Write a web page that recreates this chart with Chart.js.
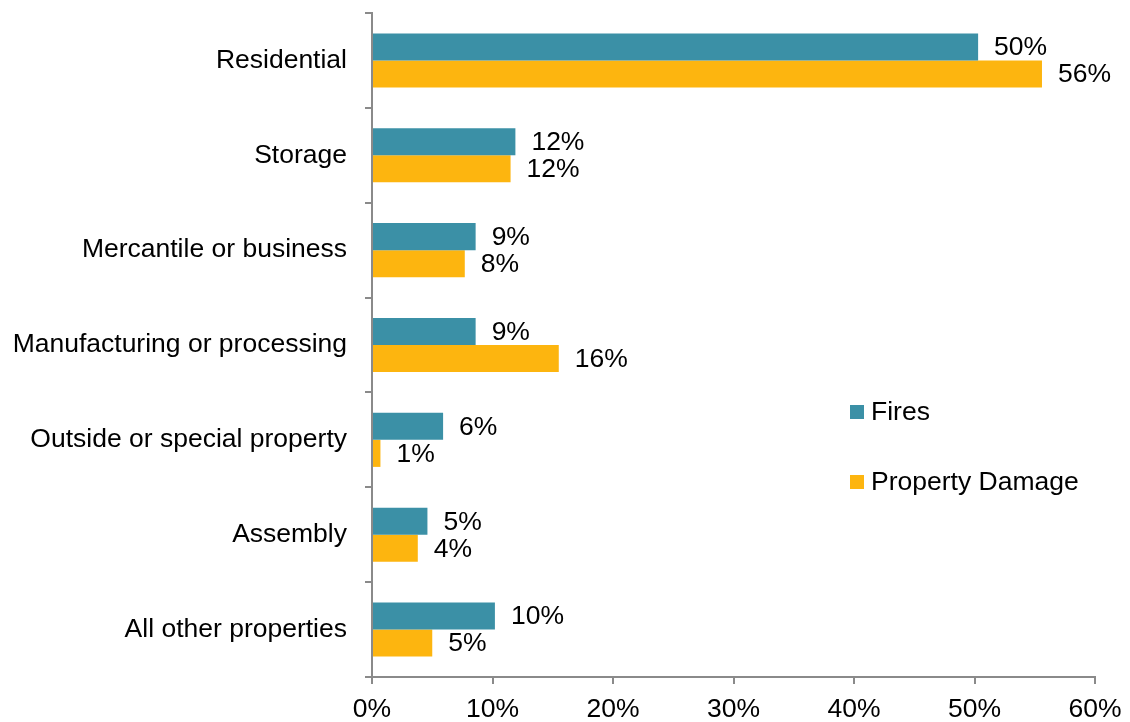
<!doctype html>
<html lang="en">
<head>
<meta charset="utf-8">
<title>Fires and property damage by property type</title>
<style>
  body { margin: 0; background: #fff; }
  #wrap { position: relative; width: 1130px; height: 722px; }
</style>
<script src="https://cdn.jsdelivr.net/npm/chart.js@4.4.1/dist/chart.umd.min.js"></script>
</head>
<body>
<div id="wrap"><canvas id="myChart"></canvas></div>

<script>
var categories = [
  "Residential",
  "Storage",
  "Mercantile or business",
  "Manufacturing or processing",
  "Outside or special property",
  "Assembly",
  "All other properties"
];
// share of all fires / all property damage, in percent
var fires = [50.3, 11.9, 8.6, 8.6, 5.9, 4.6, 10.2];
var damage = [55.6, 11.5, 7.7, 15.5, 0.7, 3.8, 5.0];
var seriesNames = ["Fires", "Property Damage"];
var xTicks = [0, 10, 20, 30, 40, 50, 60];

var FONT = "'Liberation Sans', Arial, sans-serif";
var FONT_SIZE = 26.5;
var AXIS = "#8a8a8a";

// value labels just past the end of each bar
var barLabels = {
  id: "barLabels",
  afterDatasetsDraw: function(chart) {
    var ctx = chart.ctx;
    ctx.save();
    ctx.font = FONT_SIZE + "px " + FONT;
    ctx.fillStyle = "#000";
    ctx.textAlign = "left";
    ctx.textBaseline = "middle";
    chart.data.datasets.forEach(function(ds, i) {
      chart.getDatasetMeta(i).data.forEach(function(bar, j) {
        ctx.fillText(Math.round(ds.data[j]) + "%", bar.x + 16, bar.y + 1);
      });
    });
    ctx.restore();
  }
};

// legend sits inside the plot, lower right
var sideLegend = {
  id: "sideLegend",
  afterDraw: function(chart) {
    var ctx = chart.ctx;
    var x = 850, y = 412, step = 70;
    ctx.save();
    ctx.font = FONT_SIZE + "px " + FONT;
    ctx.textAlign = "left";
    ctx.textBaseline = "middle";
    chart.data.datasets.forEach(function(ds, i) {
      var cy = y + i * step;
      ctx.fillStyle = ds.backgroundColor;
      ctx.fillRect(x, cy - 7, 14, 14);
      ctx.fillStyle = "#000";
      ctx.fillText(ds.label, x + 21, cy + 1);
    });
    ctx.restore();
  }
};

var ctx = document.getElementById("myChart").getContext("2d");
var myChart = new Chart(ctx, {
  type: "bar",
  data: {
    labels: categories,
    datasets: [{
      label: seriesNames[0],
      data: fires,
      backgroundColor: "#3B90A6"
    }, {
      label: seriesNames[1],
      data: damage,
      backgroundColor: "#FDB50F"
    }]
  },
  options: {
    indexAxis: "y",
    responsive: true,
    maintainAspectRatio: false,
    animation: false,
    layout: { padding: { top: 13, right: 35, left: 0, bottom: 0 } },
    datasets: { bar: { categoryPercentage: 0.57, barPercentage: 1.0 } },
    plugins: {
      legend: { display: false },
      tooltip: { enabled: false }
    },
    scales: {
      x: {
        min: 0,
        max: 60,
        afterFit: function(scale) {
          scale.height = 45;
          scale.paddingLeft = 0;
          scale.paddingRight = 0;
        },
        afterBuildTicks: function(scale) {
          scale.ticks = xTicks.map(function(v) { return { value: v }; });
        },
        border: { color: AXIS, width: 2 },
        grid: { drawOnChartArea: false, tickLength: 7, color: AXIS, lineWidth: 2 },
        ticks: {
          color: "#000",
          padding: 10,
          maxRotation: 0,
          font: { family: FONT, size: FONT_SIZE },
          callback: function(v) { return v + "%"; }
        }
      },
      y: {
        afterFit: function(scale) {
          scale.width = 372;
          scale.paddingTop = 0;
          scale.paddingBottom = 0;
        },
        border: { color: AXIS, width: 2 },
        grid: { offset: true, drawOnChartArea: false, tickLength: 7, color: AXIS, lineWidth: 2 },
        ticks: {
          color: "#000",
          padding: 18,
          font: { family: FONT, size: FONT_SIZE }
        }
      }
    }
  },
  plugins: [barLabels, sideLegend]
});
</script>
</body>
</html>
